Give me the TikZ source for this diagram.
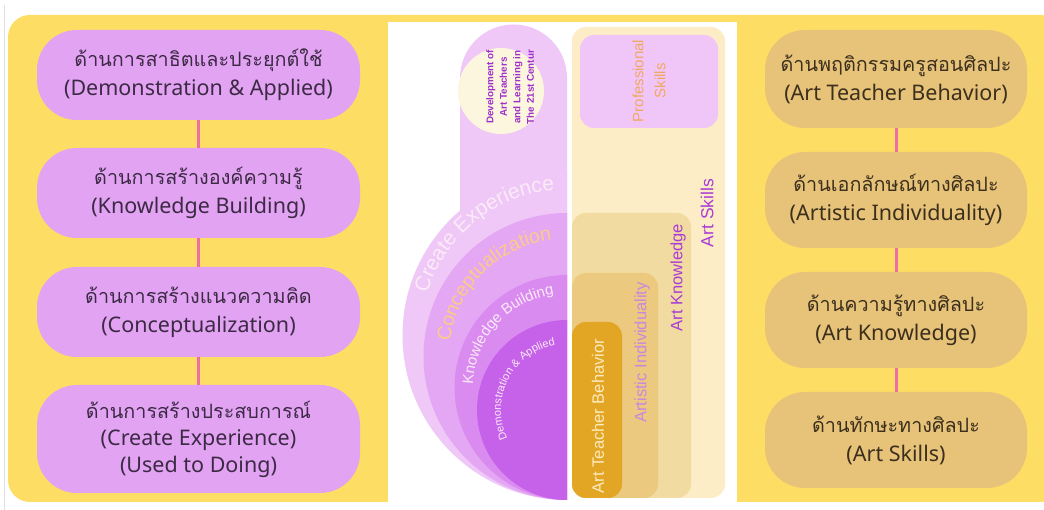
\documentclass[tikz,border=0pt]{standalone}
\usepackage{fontspec}
\setmainfont{Liberation Sans}
\newfontfamily\thai[Script=Thai,Scale=0.92]{Loma}
\newfontfamily\latin{Noto Sans}
\usetikzlibrary{decorations.text}
\definecolor{ybg}{HTML}{FEDD64}
\definecolor{lpurple}{HTML}{E3A3F3}
\definecolor{tanpill}{HTML}{E6C378}
\definecolor{pinkline}{HTML}{EE6FA8}
\definecolor{ltext}{HTML}{3C2A45}
\definecolor{rtext}{HTML}{3D2F1E}
\definecolor{pcol}{HTML}{EFC8F7}
\definecolor{pconc}{HTML}{E4A7F3}
\definecolor{pknow}{HTML}{D98BF0}
\definecolor{pdemo}{HTML}{C662EA}
\definecolor{cream}{HTML}{FDF6DE}
\definecolor{skillbox}{HTML}{FDEDC6}
\definecolor{profbox}{HTML}{F0C6F8}
\definecolor{knowbox}{HTML}{F1DBA0}
\definecolor{indivbox}{HTML}{EBC97E}
\definecolor{teachbox}{HTML}{E3A624}
\definecolor{purptext}{HTML}{A93BD6}
\definecolor{devtext}{HTML}{9E2FCB}
\definecolor{proftext}{HTML}{F0A860}
\definecolor{indivtext}{HTML}{C987E0}
\definecolor{teachtext}{HTML}{FCEBC0}
\definecolor{conctext}{HTML}{FDCB86}
\definecolor{paletext}{HTML}{FBEAF8}
\tikzset{
  lpill/.style={rounded corners=40pt, fill=lpurple, minimum width=323pt, align=center, text=ltext, inner sep=0pt, font=\fontsize{21.5}{29}\selectfont},
  rpill/.style={rounded corners=40pt, fill=tanpill, minimum width=262pt, align=center, text=rtext, inner sep=0pt, font=\fontsize{21.5}{29}\selectfont},
  conn/.style={draw=pinkline, line width=3pt},
  vlabel/.style={rotate=90, inner sep=0pt, font=\fontsize{16.5}{19}\selectfont},
  arctext/.style={decorate, decoration={text along path, text align=center}}
}
\begin{document}
\begin{tikzpicture}[x=1pt,y=1pt]
\useasboundingbox (0,0) rectangle (1044,510);
\fill[white] (0,0) rectangle (1044,510);
\draw[black!12, line width=1pt] (4.5,0) -- (4.5,505);
\fill[ybg, rounded corners=22pt] (8,8) rectangle (1062,495);
\fill[white] (388,0) rectangle (737,488);

% left pills
\node[lpill, minimum height=90pt] (l1) at (198.5,435) {{\thai ด้านการสาธิตและประยุกต์ใช้}\\{\latin (Demonstration \& Applied)}};
\node[lpill, minimum height=90pt] (l2) at (198.5,317) {{\thai ด้านการสร้างองค์ความรู้}\\{\latin (Knowledge Building)}};
\node[lpill, minimum height=90pt] (l3) at (198.5,198) {{\thai ด้านการสร้างแนวความคิด}\\{\latin (Conceptualization)}};
\node[lpill, minimum height=108pt, font=\fontsize{21.5}{27}\selectfont] (l4) at (198.5,71) {{\thai ด้านการสร้างประสบการณ์}\\{\latin (Create Experience)}\\{\latin (Used to Doing)}};
\draw[conn] (l1) -- (l2);
\draw[conn] (l2) -- (l3);
\draw[conn] (l3) -- (l4);

% right pills
\node[rpill, minimum height=98pt] (r1) at (896,431) {{\thai ด้านพฤติกรรมครูสอนศิลปะ}\\{\latin (Art Teacher Behavior)}};
\node[rpill, minimum height=96pt] (r2) at (896,310) {{\thai ด้านเอกลักษณ์ทางศิลปะ}\\{\latin (Artistic Individuality)}};
\node[rpill, minimum height=96pt] (r3) at (896,190) {{\thai ด้านความรู้ทางศิลปะ}\\{\latin (Art Knowledge)}};
\node[rpill, minimum height=96pt] (r4) at (896,70) {{\thai ด้านทักษะทางศิลปะ}\\{\latin (Art Skills)}};
\draw[conn] (r1) -- (r2);
\draw[conn] (r2) -- (r3);
\draw[conn] (r3) -- (r4);

% purple column and half discs
\fill[pcol] (460,174.5) -- (460,432) arc[start angle=180, end angle=0, radius=53.5] -- (567,174.5) -- cycle;
\fill[pcol] (567,10) arc[start angle=270, end angle=90, radius=164.5] -- cycle;
\fill[pconc] (567,10) arc[start angle=270, end angle=90, radius=143.5] -- cycle;
\fill[pknow] (567,10) arc[start angle=270, end angle=90, radius=112.5] -- cycle;
\fill[pdemo] (567,10) arc[start angle=270, end angle=90, radius=90] -- cycle;

\node[circle, fill=cream, minimum size=86pt, inner sep=0pt] (core) at (501,419) {};
\node[rotate=90, align=center, text=devtext, inner sep=0pt, font=\bfseries\fontsize{9.8}{13.5}\selectfont] (dev) at (510,423) {Development of\\Art Teachers\\and Learning in\\The 21st Centur};

\path[arctext, decoration={text={|\color{paletext}\fontsize{21}{21}\selectfont|Create Experience}}] (567,174.5) ++(178:146) arc[start angle=178, end angle=80, radius=146];
\path[arctext, decoration={text={|\color{conctext}\fontsize{19.5}{19.5}\selectfont|Conceptualization}}] (567,153.5) ++(185:118) arc[start angle=185, end angle=85, radius=118];
\path[arctext, decoration={text={|\color{paletext}\fontsize{15}{15}\selectfont|Knowledge Building}}] (567,122.5) ++(190:94) arc[start angle=190, end angle=86, radius=94];
\path[arctext, decoration={text={|\color{paletext}\fontsize{11}{11}\selectfont|Demonstration {\&} Applied}}] (567,100) ++(215:66) arc[start angle=215, end angle=91, radius=66];

% right boxes
\fill[skillbox, rounded corners=14pt] (572,12) rectangle (725,483);
\fill[profbox, rounded corners=14pt] (580,382) rectangle (718,475);
\fill[knowbox, rounded corners=14pt] (572,12) rectangle (691,297);
\fill[indivbox, rounded corners=14pt] (572,12) rectangle (658,237);
\fill[teachbox, rounded corners=14pt] (572,12) rectangle (622,188);

\node[vlabel, align=center, text=proftext, font=\fontsize{15}{22}\selectfont] (prof) at (649,429) {Professional\\Skills};
\node[vlabel, text=purptext, font=\fontsize{17.5}{20}\selectfont] (skills) at (707,297) {Art Skills};
\node[vlabel, text=purptext] (know) at (678,232.5) {Art Knowledge};
\node[vlabel, text=indivtext] (indiv) at (642,157.5) {Artistic Individuality};
\node[vlabel, text=teachtext] (teach) at (598,94) {Art Teacher Behavior};
\end{tikzpicture}
\end{document}
